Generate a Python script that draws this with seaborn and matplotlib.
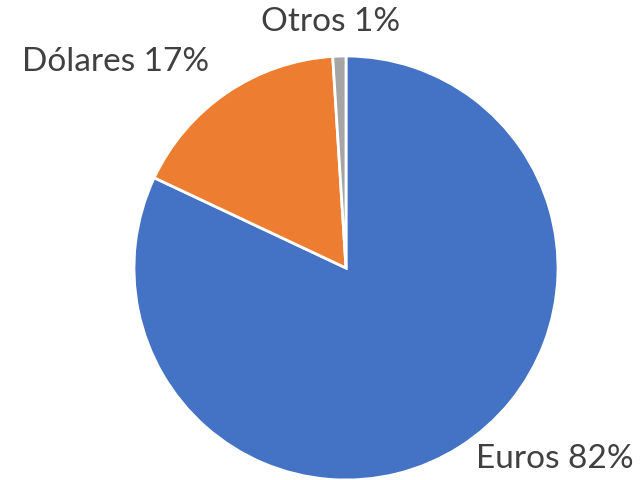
import matplotlib
matplotlib.use("Agg")
import matplotlib.pyplot as plt
import seaborn as sns

categories = ["Euros", "Dólares", "Otros"]
values = [82, 17, 1]
labels = ["Euros 82%", "Dólares 17%", "Otros 1%"]
colors = ["#4472C4", "#ED7D31", "#A5A5A5"]

sns.set_theme(style="white")
plt.rcParams['font.family'] = ['Lato', 'DejaVu Sans']

fig = plt.figure(figsize=(6.43, 4.8), dpi=100)
ax = fig.add_axes([134/643, 0.0, 424/643, 424/480])
wedges, _ = ax.pie(values, colors=colors, startangle=90, counterclock=False,
                   radius=1.0, wedgeprops=dict(edgecolor="white", linewidth=2))
ax.set_xlim(-1, 1)
ax.set_ylim(-1, 1)
ax.set_aspect("equal")
ax.axis("off")

label_pos = {"Euros 82%": (0.986, -0.90), "Dólares 17%": (-1.085, 0.97), "Otros 1%": (-0.075, 1.16)}
for lab in labels:
    x, y = label_pos[lab]
    ax.text(x, y, lab, ha="center", va="center", fontsize=24, color="#404040", clip_on=False)

fig.savefig("out.png", dpi=100)
